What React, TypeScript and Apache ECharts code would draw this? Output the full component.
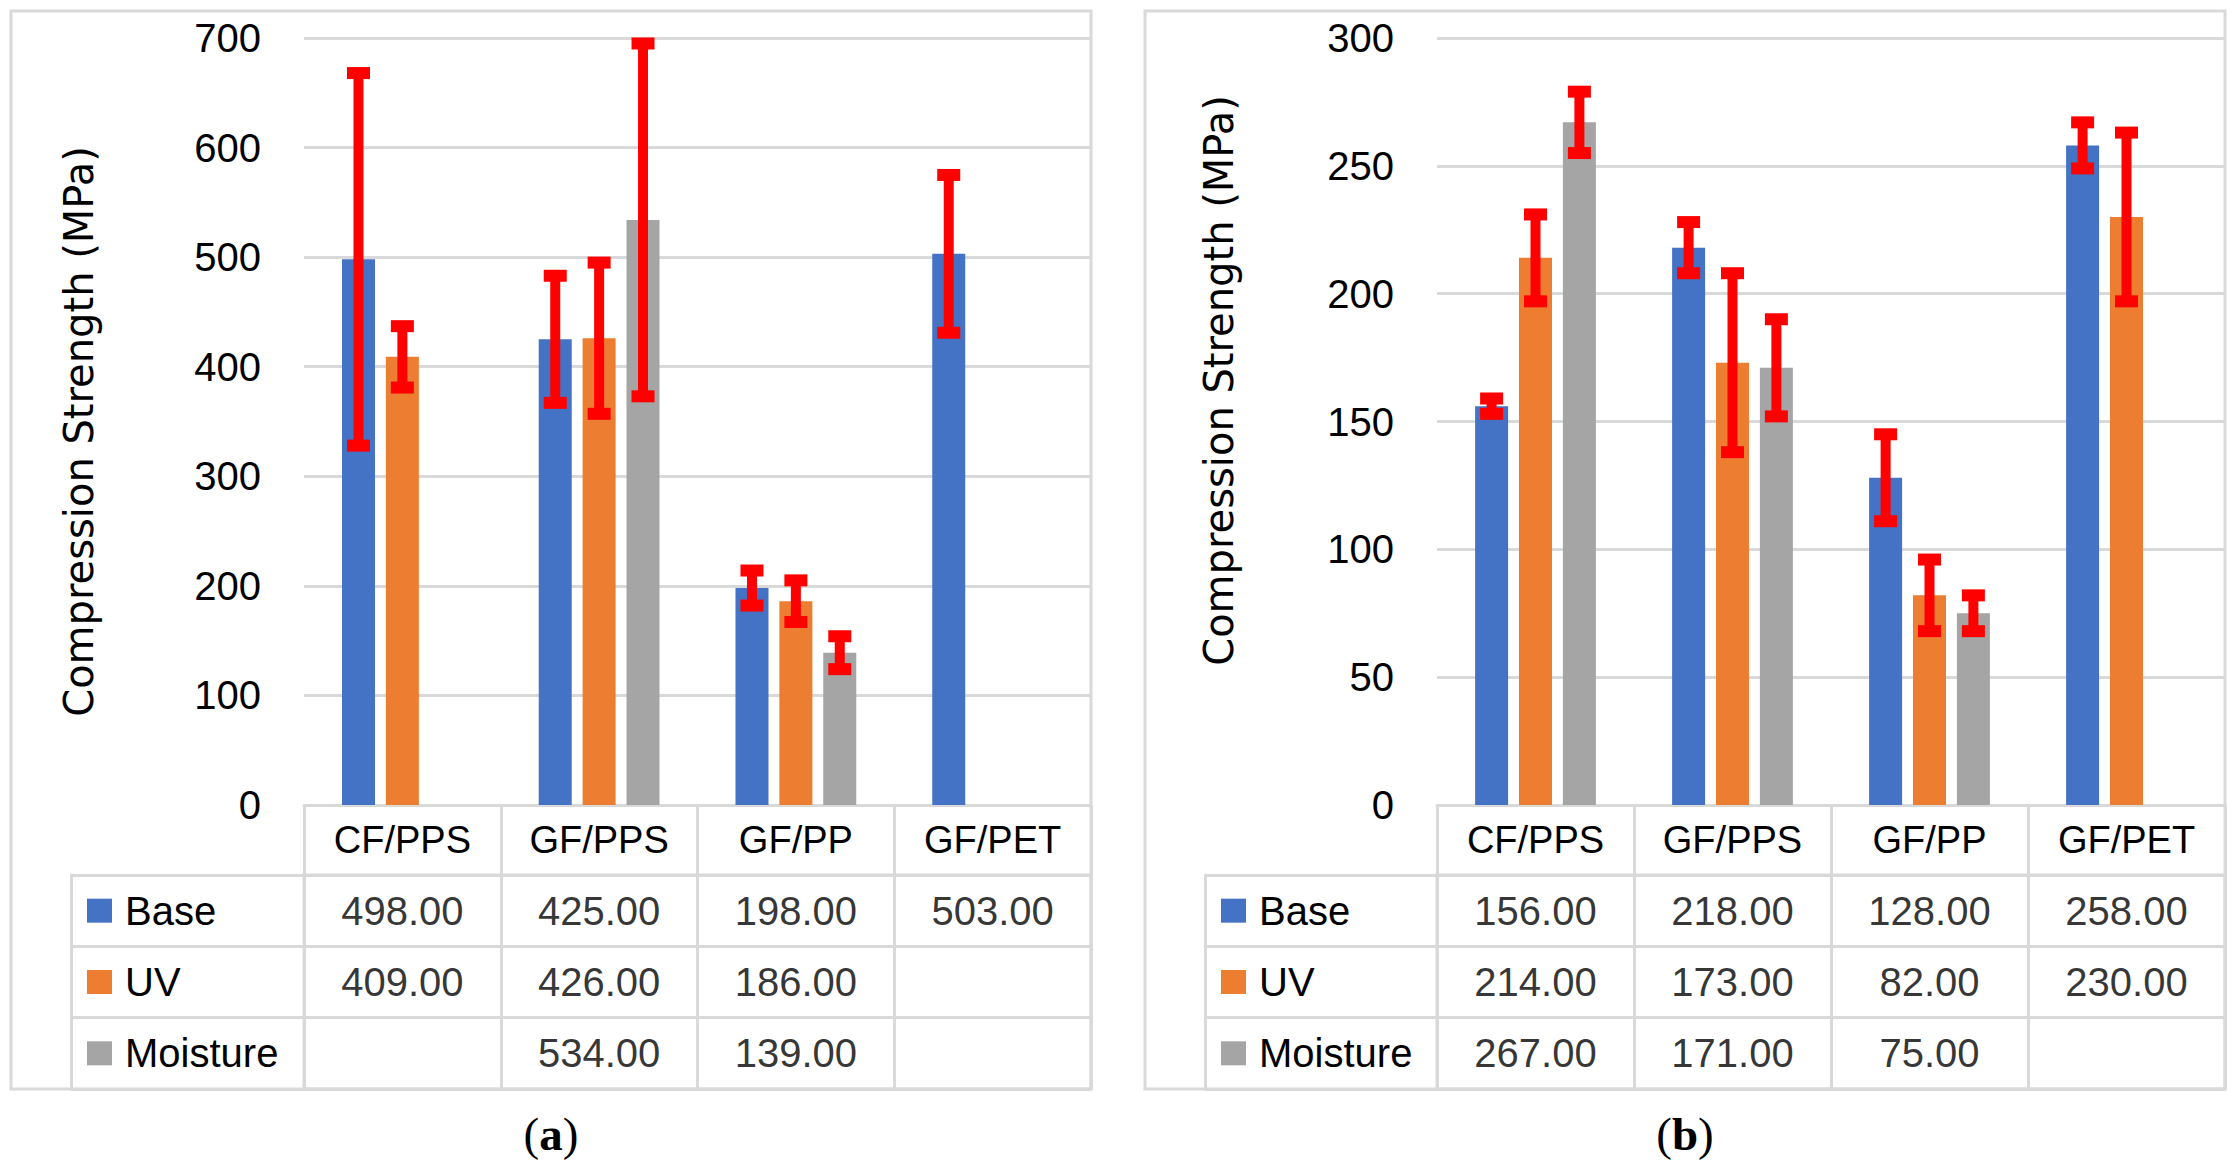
import { useEffect, useRef } from 'react';
import * as echarts from 'echarts';

type Num = number | null;

const categories = ['CF/PPS', 'GF/PPS', 'GF/PP', 'GF/PET'];
const seriesNames = ['Base', 'UV', 'Moisture'];
const seriesColors = ['#4472C4', '#ED7D31', '#A5A5A5'];
const axisTitle = 'Compression Strength (MPa)';

// panel (a)
const baseA: Num[] = [498, 425, 198, 503];
const uvA: Num[] = [409, 426, 186, null];
const moistureA: Num[] = [null, 534, 139, null];
const baseErrA: Num[] = [170, 58, 16, 72];
const uvErrA: Num[] = [28, 69, 19, null];
const moistureErrA: Num[] = [null, 161, 15, null];
const yMaxA = 700;
const yStepA = 100;

// panel (b)
const baseB: Num[] = [156, 218, 128, 258];
const uvB: Num[] = [214, 173, 82, 230];
const moistureB: Num[] = [267, 171, 75, null];
const baseErrB: Num[] = [3, 10, 17, 9];
const uvErrB: Num[] = [17, 35, 14, 33];
const moistureErrB: Num[] = [12, 19, 7, null];
const yMaxB = 300;
const yStepB = 50;

const LINE = '#D9D9D9';
const SANS = "'Liberation Sans', Arial, sans-serif";
const SERIF = "'Liberation Serif', serif";
const BAR_W = 33;
const BAR_GAP = 0.33;
const PLOT_TOP = 38;
const PLOT_BOTTOM = 805;
const HEADER_H = 70;
const TABLE_BOTTOM = 1089;
const FRAME_TOP = 11;

interface PanelLayout {
  frameLeft: number;
  legendLeft: number;
  plotLeft: number;
  plotRight: number;
  nameGap: number;
  namePadding: number[];
  caption: string;
}

const layoutA: PanelLayout = {
  frameLeft: 11,
  legendLeft: 71,
  plotLeft: 304,
  plotRight: 1091,
  nameGap: 205,
  namePadding: [0, 20, 0, 0],
  caption: 'a',
};

const layoutB: PanelLayout = {
  frameLeft: 1145,
  legendLeft: 1205,
  plotLeft: 1437,
  plotRight: 2225,
  nameGap: 198,
  namePadding: [0, 0, 0, 82],
  caption: 'b',
};

function buildPanel(
  opt: any,
  layout: PanelLayout,
  values: Num[][],
  errors: Num[][],
  yMax: number,
  yStep: number,
) {
  const plotGrid = opt.grid.length;
  const tableGrid = plotGrid + 1;
  const width = layout.plotRight - layout.plotLeft;
  const lineStyle = { color: LINE, width: 3 };

  opt.grid.push(
    { left: layout.plotLeft, top: PLOT_TOP, width, height: PLOT_BOTTOM - PLOT_TOP },
    {
      left: layout.plotLeft,
      top: PLOT_BOTTOM + HEADER_H,
      width,
      height: TABLE_BOTTOM - PLOT_BOTTOM - HEADER_H,
      show: true,
      borderColor: LINE,
      borderWidth: 3,
      backgroundColor: 'transparent',
    },
  );

  const plotX = opt.xAxis.length;
  opt.xAxis.push(
    {
      type: 'category',
      gridIndex: plotGrid,
      data: categories,
      boundaryGap: true,
      axisLine: { show: true, lineStyle },
      axisTick: { show: true, interval: 0, length: HEADER_H, alignWithLabel: false, lineStyle },
      axisLabel: {
        interval: 0,
        margin: 35,
        verticalAlign: 'middle',
        fontSize: 38,
        color: '#000',
        fontFamily: SANS,
      },
      splitLine: { show: false },
    },
    {
      type: 'category',
      gridIndex: tableGrid,
      data: categories,
      position: 'top',
      axisLine: { show: false },
      axisTick: { show: false },
      axisLabel: { show: false },
      splitLine: { show: true, interval: 0, lineStyle },
    },
  );
  const tableX = plotX + 1;

  const rich: Record<string, any> = {
    t: { fontSize: 40, fontFamily: SANS, color: '#000', padding: [0, 0, 0, 13] },
  };
  seriesColors.forEach((color, i) => {
    rich[`s${i}`] = { width: 25, height: 24, backgroundColor: color };
  });

  const plotY = opt.yAxis.length;
  opt.yAxis.push(
    {
      type: 'value',
      gridIndex: plotGrid,
      min: 0,
      max: yMax,
      interval: yStep,
      axisLine: { show: false },
      axisTick: { show: false },
      axisLabel: { margin: 43, fontSize: 40, color: '#000', fontFamily: SANS },
      splitLine: { show: true, lineStyle },
      name: axisTitle,
      nameLocation: 'middle',
      nameRotate: 90,
      nameGap: layout.nameGap,
      nameTextStyle: {
        fontSize: 40,
        fontFamily: "'DejaVu Sans', sans-serif",
        color: '#000',
        padding: layout.namePadding,
      },
    },
    {
      type: 'category',
      gridIndex: tableGrid,
      data: seriesNames,
      inverse: true,
      position: 'left',
      axisLine: { show: false },
      axisTick: {
        show: true,
        interval: 0,
        alignWithLabel: false,
        length: layout.plotLeft - layout.legendLeft,
        lineStyle,
      },
      axisLabel: {
        interval: 0,
        align: 'left',
        margin: layout.plotLeft - layout.legendLeft - 16,
        formatter: (v: string, i: number) => `{s${i}|}{t|${v}}`,
        rich,
      },
      splitLine: { show: true, interval: 0, lineStyle },
    },
    {
      type: 'category',
      gridIndex: tableGrid,
      data: seriesNames,
      inverse: true,
      position: 'left',
      offset: layout.plotLeft - layout.legendLeft,
      axisLine: { show: true, lineStyle },
      axisTick: { show: false },
      axisLabel: { show: false },
      splitLine: { show: false },
    },
  );
  const tableY = plotY + 1;

  values.forEach((row, s) => {
    opt.series.push({
      type: 'bar',
      name: seriesNames[s],
      xAxisIndex: plotX,
      yAxisIndex: plotY,
      data: row.map((v) => (v === null ? '-' : v)),
      barWidth: BAR_W,
      barGap: `${BAR_GAP * 100}%`,
      itemStyle: { color: seriesColors[s] },
      z: 2,
    });
  });

  const errData: number[][] = [];
  const cellData: number[][] = [];
  values.forEach((row, s) => {
    row.forEach((v, c) => {
      if (v === null) return;
      cellData.push([c, s, v]);
      const e = errors[s][c];
      if (e !== null) errData.push([c, s, v, e]);
    });
  });

  const step = BAR_W * (1 + BAR_GAP);
  opt.series.push({
    type: 'custom',
    xAxisIndex: plotX,
    yAxisIndex: plotY,
    data: errData,
    encode: { x: 0, y: 2 },
    z: 5,
    silent: true,
    renderItem: (_params: any, api: any) => {
      const c = api.value(0);
      const s = api.value(1);
      const v = api.value(2);
      const e = api.value(3);
      const top = api.coord([c, v + e]);
      const bot = api.coord([c, v - e]);
      const x = top[0] + (s - 1) * step;
      const style = { fill: '#FF0000' };
      return {
        type: 'group',
        children: [
          {
            type: 'line',
            shape: { x1: x, y1: top[1], x2: x, y2: bot[1] },
            style: { stroke: '#FF0000', lineWidth: 10 },
          },
          { type: 'rect', shape: { x: x - 11.5, y: top[1] - 6, width: 23, height: 12 }, style },
          { type: 'rect', shape: { x: x - 11.5, y: bot[1] - 6, width: 23, height: 12 }, style },
        ],
      };
    },
  });

  opt.series.push({
    type: 'scatter',
    xAxisIndex: tableX,
    yAxisIndex: tableY,
    data: cellData,
    encode: { x: 0, y: 1 },
    symbolSize: 1,
    silent: true,
    itemStyle: { color: 'rgba(0,0,0,0)' },
    label: {
      show: true,
      position: 'inside',
      fontSize: 40,
      fontFamily: SANS,
      color: '#000',
      formatter: (p: any) => Number(p.value[2]).toFixed(2),
    },
  });

  opt.graphic.push(
    {
      type: 'rect',
      silent: true,
      shape: {
        x: layout.frameLeft,
        y: FRAME_TOP,
        width: layout.plotRight - layout.frameLeft,
        height: TABLE_BOTTOM - FRAME_TOP,
      },
      style: { fill: 'none', stroke: LINE, lineWidth: 3 },
      z: -1,
    },
    {
      type: 'text',
      silent: true,
      x: (layout.frameLeft + layout.plotRight) / 2,
      y: 1134,
      style: {
        text: `{p|(}{b|${layout.caption}}{p|)}`,
        align: 'center',
        verticalAlign: 'middle',
        textAlign: 'center',
        textVerticalAlign: 'middle',
        rich: {
          p: { fontSize: 47, fontFamily: SERIF, fill: '#000' },
          b: { fontSize: 47, fontWeight: 'bold', fontFamily: SERIF, fill: '#000' },
        },
      },
    },
  );
}

export default function App() {
  const ref = useRef<HTMLDivElement | null>(null);

  useEffect(() => {
    if (!ref.current) return;
    const chart = echarts.init(ref.current, undefined, { renderer: 'svg' });

    const opt: any = {
      animation: false,
      backgroundColor: '#ffffff',
      grid: [],
      xAxis: [],
      yAxis: [],
      series: [],
      graphic: [],
    };
    buildPanel(
      opt,
      layoutA,
      [baseA, uvA, moistureA],
      [baseErrA, uvErrA, moistureErrA],
      yMaxA,
      yStepA,
    );
    buildPanel(
      opt,
      layoutB,
      [baseB, uvB, moistureB],
      [baseErrB, uvErrB, moistureErrB],
      yMaxB,
      yStepB,
    );
    chart.setOption(opt);

    return () => chart.dispose();
  }, []);

  return (
    <div
      ref={ref}
      style={{ position: 'fixed', left: 0, top: 0, width: 2237, height: 1164, background: '#fff' }}
    />
  );
}
